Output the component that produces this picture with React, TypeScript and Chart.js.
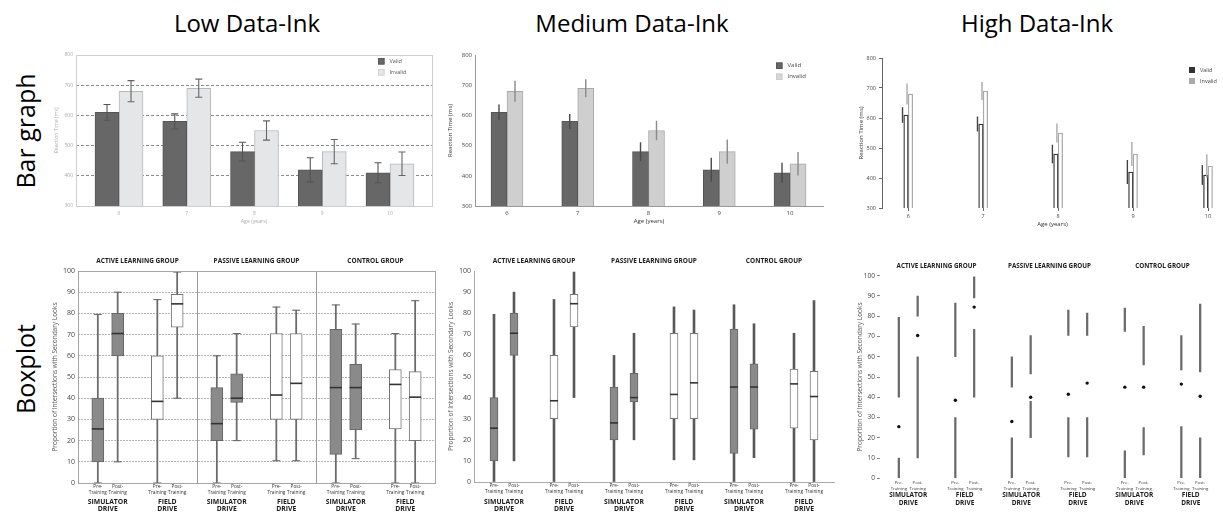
import React, { useEffect, useRef } from 'react';
import { Chart, registerables } from 'chart.js';
Chart.register(...registerables);

const FONT = '"Open Sans", "DejaVu Sans", sans-serif';

// ---------- Bar graph data ----------
const AGES = [6, 7, 8, 9, 10];
const VALID_RT = [610, 580, 480, 420, 410];
const INVALID_RT = [680, 690, 550, 480, 440];
const VALID_ERR = [26, 25, 31, 40, 33];
const INVALID_ERR = [35, 30, 32, 40, 39];
const SERIES = ['Valid', 'Invalid'];

// ---------- Boxplot data ----------
const GROUPS = ['ACTIVE LEARNING GROUP', 'PASSIVE LEARNING GROUP', 'CONTROL GROUP'];
const DRIVES = ['SIMULATOR DRIVE', 'FIELD DRIVE'];
const SESSIONS = ['Pre-Training', 'Post-Training'];
const BOX_MIN = [0, 10, 0, 40, 0, 20, 10.5, 10.5, 0, 11.5, 0, 0];
const BOX_Q1 = [10, 60, 30, 73.5, 20, 38, 30, 30, 13.5, 25, 25.5, 20];
const BOX_MED = [25.5, 70.5, 38.5, 84.5, 28, 40, 41.5, 47, 45, 45, 46.5, 40.5];
const BOX_Q3 = [40, 80, 60, 89, 45, 51.5, 70.5, 70.5, 72.5, 56, 53.5, 52.5];
const BOX_MAX = [79.5, 90, 86.5, 99.5, 60, 70.5, 83, 81.5, 84, 75, 70.5, 86];

function buildSlots() {
  const labels: string[] = [];
  const boxIndex: (number | null)[] = [];
  let k = 0;
  GROUPS.forEach(() =>
    DRIVES.forEach(() => {
      labels.push('');
      boxIndex.push(null);
      SESSIONS.forEach((s) => {
        labels.push(s);
        boxIndex.push(k++);
      });
    })
  );
  labels.push('');
  boxIndex.push(null);
  return { labels, boxIndex };
}
const isSim = (b: number) => Math.floor(b / 2) % 2 === 0;

// ---------- plugins ----------
const errorBars = (o: { colors: string[]; width: number; cap: number; shift: (w: number) => number }) => ({
  id: 'errorBars',
  afterDatasetsDraw(chart: any) {
    const ctx = chart.ctx;
    const y = chart.scales.y;
    chart.data.datasets.forEach((ds: any, i: number) => {
      const meta = chart.getDatasetMeta(i);
      meta.data.forEach((el: any, j: number) => {
        const v = ds.data[j].y;
        const e = ds.errors[j];
        const x = el.x + o.shift(el.width);
        const yt = y.getPixelForValue(v + e);
        const yb = y.getPixelForValue(v - e);
        ctx.save();
        ctx.strokeStyle = o.colors[i];
        ctx.lineWidth = o.width;
        ctx.beginPath();
        ctx.moveTo(x, yt);
        ctx.lineTo(x, yb);
        if (o.cap) {
          ctx.moveTo(x - o.cap / 2, yt);
          ctx.lineTo(x + o.cap / 2, yt);
          ctx.moveTo(x - o.cap / 2, yb);
          ctx.lineTo(x + o.cap / 2, yb);
        }
        ctx.stroke();
        ctx.restore();
      });
    });
  },
});

const legendBox = (o: {
  x: number; y: number; gap: number; size: number; font: number;
  fills: string[]; borders: string[]; textColor: string;
}) => ({
  id: 'legendBox',
  afterDraw(chart: any) {
    const ctx = chart.ctx;
    ctx.save();
    ctx.font = `${o.font}px ${FONT}`;
    ctx.textBaseline = 'middle';
    ctx.textAlign = 'left';
    SERIES.forEach((s, i) => {
      const yy = o.y + i * o.gap;
      ctx.fillStyle = o.fills[i];
      ctx.fillRect(o.x, yy, o.size, o.size);
      ctx.strokeStyle = o.borders[i];
      ctx.lineWidth = 0.8;
      ctx.strokeRect(o.x + 0.4, yy + 0.4, o.size - 0.8, o.size - 0.8);
      ctx.fillStyle = o.textColor;
      ctx.fillText(s, o.x + o.size + 5, yy + o.size / 2);
    });
    ctx.restore();
  },
});

const frame = (color: string) => ({
  id: 'frame',
  afterDatasetsDraw(chart: any) {
    const { left, top, right, bottom } = chart.chartArea;
    const ctx = chart.ctx;
    ctx.save();
    ctx.strokeStyle = color;
    ctx.lineWidth = 1;
    ctx.strokeRect(Math.round(left) + 0.5, Math.round(top) + 0.5, Math.round(right - left), Math.round(bottom - top));
    ctx.restore();
  },
});

// ---------- bar chart configs ----------
type BarStyle = 'low' | 'medium' | 'high';
function barConfig(style: BarStyle) {
  const S: any = {
    low: {
      thick: 24, fills: ['#676767', '#e4e6e7'], borders: ['#555', '#b5b8b9'], bw: 1,
      xmin: 5.365, xmax: 10.62, padTop: 15, padRight: 8, yW: 23, xH: 19,
      tickFont: 5, tickColor: '#aaa', titleFont: 5.2, titleColor: '#aaa', xPad: 5,
      err: errorBars({ colors: ['#555', '#666'], width: 1.1, cap: 7, shift: () => 0 }),
      legend: legendBox({ x: 325, y: 18, gap: 11, size: 6.5, font: 5.5, fills: ['#676767', '#e4e6e7'], borders: ['#555', '#ccc'], textColor: '#555' }),
    },
    medium: {
      thick: 16, fills: ['#676767', '#cfcfcf'], borders: ['#555', '#a8a8a8'], bw: 1,
      xmin: 5.548, xmax: 10.466, padTop: 15, padRight: 12, yW: 28, xH: 19,
      tickFont: 6, tickColor: '#444', titleFont: 6, titleColor: '#333', xPad: 4,
      err: errorBars({ colors: ['#4a4a4a', '#8a8a8a'], width: 1.4, cap: 0, shift: () => 0 }),
      legend: legendBox({ x: 329, y: 22.5, gap: 11, size: 6.5, font: 6, fills: ['#676767', '#d6d6d6'], borders: ['#555', '#ccc'], textColor: '#444' }),
    },
    high: {
      thick: 4.5, fills: ['#ffffff', '#ffffff'], borders: ['#333', '#aaa'], bw: 1.3,
      xmin: 5.65, xmax: 10.2, padTop: 18, padRight: 0, yW: 24, xH: 20,
      tickFont: 5.5, tickColor: '#444', titleFont: 6, titleColor: '#333', xPad: 2,
      err: errorBars({ colors: ['#444', '#aaa'], width: 1.4, cap: 0, shift: (w: number) => -w / 2 - 1.2 }),
      legend: legendBox({ x: 331, y: 27, gap: 11, size: 6, font: 5.5, fills: ['#333', '#aaa'], borders: ['#333', '#aaa'], textColor: '#444' }),
    },
  };
  const s = S[style];
  const values = [VALID_RT, INVALID_RT];
  const errs = [VALID_ERR, INVALID_ERR];
  const gridY =
    style === 'low'
      ? { display: true, color: '#8a8a8a', drawTicks: false }
      : style === 'medium'
      ? { display: true, drawOnChartArea: false, drawTicks: false }
      : { display: true, drawOnChartArea: false, drawTicks: true, tickLength: 3, color: '#666' };
  const gridX =
    style === 'high'
      ? { display: true, offset: false, drawOnChartArea: false, drawTicks: true, tickLength: 3, color: '#666' }
      : { display: style === 'medium', offset: false, drawOnChartArea: false, drawTicks: false };
  return {
    type: 'bar',
    data: {
      datasets: SERIES.map((name, i) => ({
        label: name,
        data: AGES.map((a, j) => ({ x: a, y: values[i][j] })),
        errors: errs[i],
        backgroundColor: s.fills[i],
        borderColor: s.borders[i],
        borderWidth: s.bw,
        barThickness: s.thick,
      })),
    },
    options: {
      responsive: false,
      animation: false,
      layout: { padding: { top: s.padTop, right: s.padRight, left: 0, bottom: 0 } },
      plugins: { legend: { display: false }, tooltip: { enabled: false } },
      scales: {
        x: {
          type: 'linear',
          offset: false,
          bounds: 'data',
          min: s.xmin,
          max: s.xmax,
          afterFit: (sc: any) => { sc.height = s.xH; },
          afterBuildTicks: (sc: any) => { sc.ticks = AGES.map((a) => ({ value: a })); },
          ticks: { stepSize: 1, includeBounds: false, font: { size: s.tickFont, family: FONT }, color: s.tickColor, padding: s.xPad },
          grid: gridX,
          border: { display: style === 'medium', color: '#999' },
          title: { display: true, text: 'Age (years)', font: { size: s.titleFont, family: FONT }, color: s.titleColor, padding: 0 },
        },
        y: {
          min: 300,
          max: 800,
          afterFit: (sc: any) => { sc.width = s.yW; },
          ticks: { stepSize: 100, font: { size: s.tickFont, family: FONT }, color: s.tickColor, padding: 3 },
          grid: gridY,
          border: style === 'low' ? { display: false, dash: [3, 2] } : { display: true, color: style === 'high' ? '#666' : '#999' },
          title: { display: true, text: 'Reaction Time (ms)', font: { size: s.titleFont, family: FONT }, color: s.titleColor, padding: 0 },
        },
      },
    },
    plugins: style === 'low' ? [s.err, frame('#cfcfcf'), s.legend] : [s.err, s.legend],
  };
}

// ---------- box plot configs ----------
function boxConfig(style: BarStyle) {
  const { labels, boxIndex } = buildSlots();
  const S: any = {
    low: { padTop: 19, padRight: 5, yW: 27, xH: 29, headerY: 9, d1: 250, d2: 257, tickFont: 7, lblFont: 4.8, lblPad: 1, titleFont: 6.5, hFont: 6.5, dFont: 6.8, boxW: 12, whW: 1.1, whColor: '#6a6a6a', cap: 8 },
    medium: { padTop: 19, padRight: 6, yW: 27, xH: 30, headerY: 9, d1: 250, d2: 257, tickFont: 7, lblFont: 4.8, lblPad: 1, titleFont: 6.5, hFont: 6.5, dFont: 6.8, boxW: 8, whW: 2, whColor: '#5a5a5a', cap: 0 },
    high: { padTop: 20.7, padRight: 0, yW: 24, xH: 33.7, headerY: 11.7, d1: 240, d2: 248.3, tickFont: 6.5, lblFont: 4.3, lblPad: 2, titleFont: 6.5, hFont: 6.3, dFont: 6.5, boxW: 0, whW: 1.6, whColor: '#6a6a6a', cap: 0 },
  };
  const s = S[style];
  const fill = (b: number | null) => (b == null ? 'rgba(0,0,0,0)' : isSim(b) ? '#8a8a8a' : '#ffffff');
  const edge = (b: number | null) => (b == null ? 'rgba(0,0,0,0)' : isSim(b) ? '#666' : '#777');

  const annot = {
    id: 'boxAnnot',
    beforeDatasetsDraw(chart: any) {
      if (style !== 'low') return;
      const x = chart.scales.x;
      const { top, bottom } = chart.chartArea;
      const ctx = chart.ctx;
      ctx.save();
      ctx.strokeStyle = '#9a9a9a';
      ctx.lineWidth = 1;
      [1, 2].forEach((g) => {
        const px = Math.round(x.getPixelForValue(g * 6)) + 0.5;
        ctx.beginPath();
        ctx.moveTo(px, top);
        ctx.lineTo(px, bottom);
        ctx.stroke();
      });
      ctx.restore();
    },
    afterDatasetsDraw(chart: any) {
      const ctx = chart.ctx;
      const y = chart.scales.y;
      if (style !== 'high') {
        const meta = chart.getDatasetMeta(0);
        boxIndex.forEach((b, slot) => {
          if (b == null) return;
          const el: any = meta.data[slot];
          const w = el.width;
          ctx.save();
          ctx.strokeStyle = '#333';
          ctx.lineWidth = 1.6;
          const ym = y.getPixelForValue(BOX_MED[b]);
          ctx.beginPath();
          ctx.moveTo(el.x - w / 2, ym);
          ctx.lineTo(el.x + w / 2, ym);
          ctx.stroke();
          if (s.cap) {
            ctx.strokeStyle = s.whColor;
            ctx.lineWidth = 1.1;
            [BOX_MIN[b], BOX_MAX[b]].forEach((v) => {
              const yy = y.getPixelForValue(v);
              ctx.beginPath();
              ctx.moveTo(el.x - s.cap / 2, yy);
              ctx.lineTo(el.x + s.cap / 2, yy);
              ctx.stroke();
            });
          }
          ctx.restore();
        });
      }
    },
    afterDraw(chart: any) {
      const x = chart.scales.x;
      const ctx = chart.ctx;
      ctx.save();
      ctx.fillStyle = '#1a1a1a';
      ctx.textAlign = 'center';
      ctx.textBaseline = 'middle';
      ctx.font = `bold ${s.hFont}px ${FONT}`;
      GROUPS.forEach((g, gi) => ctx.fillText(g, x.getPixelForValue(gi * 6 + 3), s.headerY));
      ctx.font = `bold ${s.dFont}px ${FONT}`;
      GROUPS.forEach((_, gi) =>
        DRIVES.forEach((d, di) => {
          const p = gi * 2 + di;
          const cx = x.getPixelForValue(p * 3 + 1.5);
          const [a, b] = d.split(' ');
          ctx.fillText(a, cx, s.d1);
          ctx.fillText(b, cx, s.d2);
        })
      );
      ctx.restore();
    },
  };

  const datasets: any[] =
    style === 'high'
      ? [
          {
            type: 'line',
            data: boxIndex.map((b) => (b == null ? null : BOX_MED[b])),
            showLine: false,
            pointRadius: 1.7,
            pointBackgroundColor: '#111',
            pointBorderWidth: 0,
          },
          {
            type: 'bar',
            data: boxIndex.map((b) => (b == null ? null : [BOX_MIN[b], BOX_Q1[b]])),
            backgroundColor: s.whColor,
            borderWidth: 0,
            barThickness: s.whW,
            grouped: false,
          },
          {
            type: 'bar',
            data: boxIndex.map((b) => (b == null ? null : [BOX_Q3[b], BOX_MAX[b]])),
            backgroundColor: s.whColor,
            borderWidth: 0,
            barThickness: s.whW,
            grouped: false,
          },
        ]
      : [
          {
            type: 'bar',
            data: boxIndex.map((b) => (b == null ? null : [BOX_Q1[b], BOX_Q3[b]])),
            backgroundColor: boxIndex.map(fill),
            borderColor: boxIndex.map(edge),
            borderWidth: 1,
            borderSkipped: false,
            barThickness: s.boxW,
            grouped: false,
          },
          {
            type: 'bar',
            data: boxIndex.map((b) => (b == null ? null : [BOX_MIN[b], BOX_MAX[b]])),
            backgroundColor: s.whColor,
            borderWidth: 0,
            barThickness: s.whW,
            grouped: false,
          },
        ];

  const gridY =
    style === 'low'
      ? { display: true, color: '#b5b5b5', drawTicks: false }
      : style === 'medium'
      ? { display: true, drawOnChartArea: false, drawTicks: false }
      : { display: true, drawOnChartArea: false, drawTicks: true, tickLength: 3, color: '#888' };

  return {
    type: 'bar',
    data: { labels, datasets },
    options: {
      responsive: false,
      animation: false,
      layout: { padding: { top: s.padTop, right: s.padRight, left: 0, bottom: 0 } },
      plugins: { legend: { display: false }, tooltip: { enabled: false } },
      scales: {
        x: {
          offset: false,
          afterFit: (sc: any) => { sc.height = s.xH; },
          grid: { display: style === 'medium', offset: false, drawOnChartArea: false, drawTicks: false },
          border: { display: style === 'medium', color: '#aaa' },
          ticks: {
            autoSkip: false,
            maxRotation: 0,
            padding: s.lblPad,
            font: { size: s.lblFont, family: FONT, lineHeight: 1.25 },
            color: '#333',
            callback: function (this: any, value: any) {
              const l = this.getLabelForValue(value);
              if (!l) return '';
              const [a, b] = l.split('-');
              return [a + '-', b];
            },
          },
        },
        y: {
          min: 0,
          max: 100,
          afterFit: (sc: any) => { sc.width = s.yW; },
          ticks: { stepSize: 10, font: { size: s.tickFont, family: FONT }, color: '#444', padding: style === 'high' ? 2 : 3 },
          grid: gridY,
          border: style === 'low' ? { display: false, dash: [2, 1] } : { display: style === 'medium', color: '#aaa' },
          title: {
            display: true,
            text: 'Proportion of Intersections with Secondary Looks',
            font: { size: s.titleFont, family: FONT },
            color: '#555',
            padding: 0,
          },
        },
      },
    },
    plugins: style === 'low' ? [annot, frame('#a5a5a5')] : [annot],
  };
}

// ---------- components ----------
function ChartCanvas({ left, top, width, height, make }: { left: number; top: number; width: number; height: number; make: () => any }) {
  const ref = useRef<HTMLCanvasElement>(null);
  useEffect(() => {
    const chart = new Chart(ref.current as HTMLCanvasElement, make());
    return () => chart.destroy();
  }, []);
  return (
    <canvas
      ref={ref}
      width={width}
      height={height}
      style={{ position: 'absolute', left, top, width, height }}
    />
  );
}

const COLUMN_TITLES = [
  { text: 'Low Data-Ink', x: 247 },
  { text: 'Medium Data-Ink', x: 632 },
  { text: 'High Data-Ink', x: 1037 },
];
const ROW_TITLES = [
  { text: 'Bar graph', y: 131 },
  { text: 'Boxplot', y: 369 },
];

export default function App() {
  return (
    <div
      style={{
        position: 'fixed',
        left: 0,
        top: 0,
        width: 1223,
        height: 512,
        background: '#fff',
        overflow: 'hidden',
        fontFamily: FONT,
      }}
    >
      {COLUMN_TITLES.map((t) => (
        <div
          key={t.text}
          style={{
            position: 'absolute',
            left: t.x,
            top: 8,
            transform: 'translateX(-50%)',
            fontSize: 24,
            lineHeight: '30px',
            whiteSpace: 'nowrap',
            color: '#000',
          }}
        >
          {t.text}
        </div>
      ))}
      {ROW_TITLES.map((t) => (
        <div
          key={t.text}
          style={{
            position: 'absolute',
            left: 25,
            top: t.y,
            transform: 'translate(-50%, -50%) rotate(-90deg)',
            fontSize: 25,
            lineHeight: '30px',
            whiteSpace: 'nowrap',
            color: '#000',
          }}
        >
          {t.text}
        </div>
      ))}
      <ChartCanvas left={53} top={40} width={387} height={185} make={() => barConfig('low')} />
      <ChartCanvas left={447} top={40} width={388} height={185} make={() => barConfig('medium')} />
      <ChartCanvas left={858} top={40} width={365} height={188} make={() => barConfig('high')} />
      <ChartCanvas left={51} top={252} width={389} height={260} make={() => boxConfig('low')} />
      <ChartCanvas left={447} top={252} width={393} height={260} make={() => boxConfig('medium')} />
      <ChartCanvas left={856} top={255} width={367} height={257} make={() => boxConfig('high')} />
    </div>
  );
}
